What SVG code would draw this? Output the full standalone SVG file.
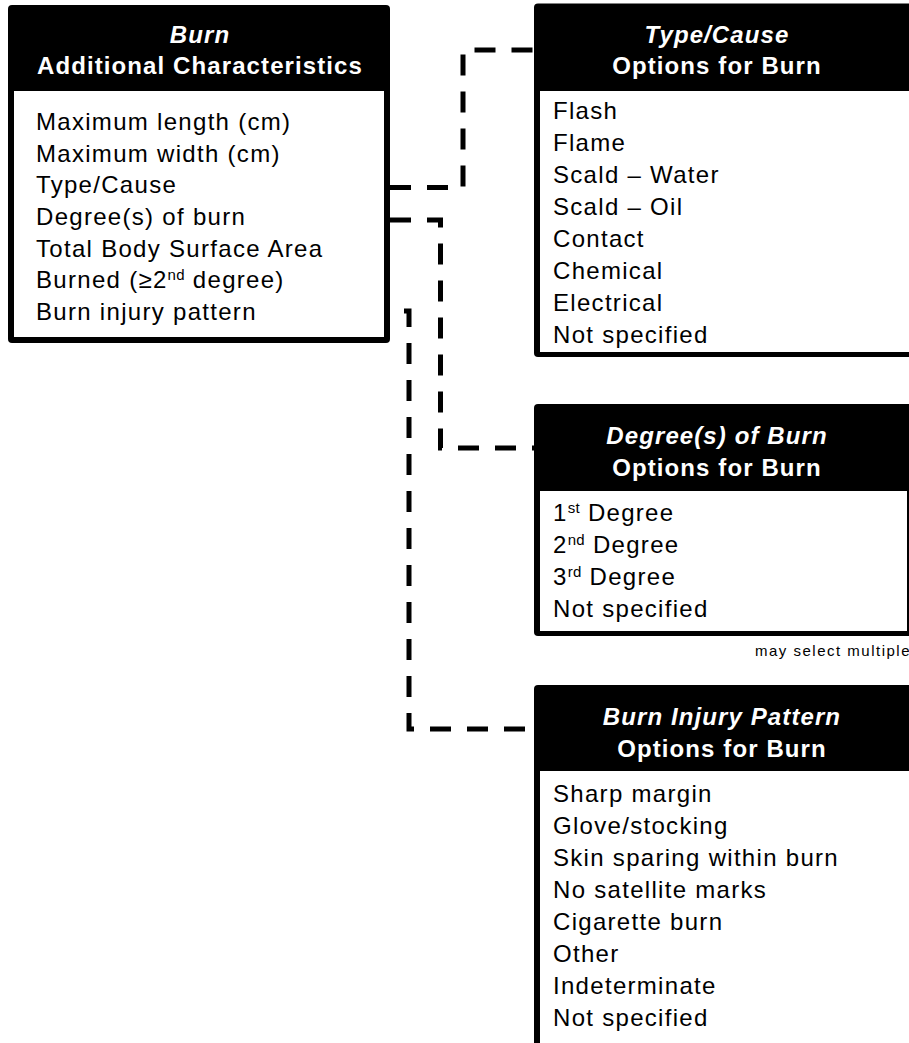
<svg xmlns="http://www.w3.org/2000/svg" width="909" height="1043" viewBox="0 0 909 1043">
<style>
.frame{fill:#000}
.body{fill:#fff}
.hd{font-family:"Liberation Sans",Arial,sans-serif;font-size:24px;font-weight:bold;fill:#fff;letter-spacing:1.1px}
.hdi{font-style:italic}
.it{font-family:"Liberation Sans",Arial,sans-serif;font-size:24px;fill:#000;letter-spacing:1.3px}
.sup{font-size:15px;letter-spacing:0.3px}
.note{font-family:"Liberation Sans",Arial,sans-serif;font-size:15px;fill:#000;letter-spacing:1.5px}
.conn{fill:none;stroke:#000;stroke-width:5;stroke-dasharray:21 16}
</style>
<rect width="909" height="1043" fill="#fff"/>
<g id="connectors">
<path class="conn" d="M390,187.5 H463 V50 H534"/>
<path class="conn" d="M390,220 H440.5 V448 H534"/>
<path class="conn" d="M404,311 H409 V729 H534"/>
</g>
<g id="burn-characteristics">
<rect class="frame" x="8" y="5" width="382" height="338" rx="4"/>
<rect class="body" x="14" y="91" width="370" height="246"/>
<text class="hd hdi" x="200" y="43" text-anchor="middle">Burn</text>
<text class="hd" x="200" y="74" text-anchor="middle">Additional Characteristics</text>
<text class="it" x="36" y="130">Maximum length (cm)</text>
<text class="it" x="36" y="161.7">Maximum width (cm)</text>
<text class="it" x="36" y="193.3">Type/Cause</text>
<text class="it" x="36" y="225">Degree(s) of burn</text>
<text class="it" x="36" y="256.7">Total Body Surface Area</text>
<text class="it" x="36" y="288.3">Burned (≥2<tspan class="sup" dy="-8">nd</tspan><tspan dy="8"> degree)</tspan></text>
<text class="it" x="36" y="320">Burn injury pattern</text>
</g>
<g id="type-cause-options">
<rect class="frame" x="534" y="3.5" width="390" height="353.5" rx="4"/>
<rect class="body" x="540" y="91" width="380" height="261"/>
<text class="hd hdi" x="717" y="43" text-anchor="middle">Type/Cause</text>
<text class="hd" x="717" y="74" text-anchor="middle">Options for Burn</text>
<text class="it" x="553" y="118.5">Flash</text>
<text class="it" x="553" y="150.5">Flame</text>
<text class="it" x="553" y="182.5">Scald – Water</text>
<text class="it" x="553" y="214.5">Scald – Oil</text>
<text class="it" x="553" y="246.5">Contact</text>
<text class="it" x="553" y="278.5">Chemical</text>
<text class="it" x="553" y="310.5">Electrical</text>
<text class="it" x="553" y="342.5">Not specified</text>
</g>
<g id="degree-options">
<rect class="frame" x="534" y="404" width="379" height="232" rx="4"/>
<rect class="body" x="540" y="491" width="367" height="140"/>
<text class="hd hdi" x="717" y="444" text-anchor="middle">Degree(s) of Burn</text>
<text class="hd" x="717" y="476" text-anchor="middle">Options for Burn</text>
<text class="it" x="553" y="521">1<tspan class="sup" dy="-8">st</tspan><tspan dy="8"> Degree</tspan></text>
<text class="it" x="553" y="553">2<tspan class="sup" dy="-8">nd</tspan><tspan dy="8"> Degree</tspan></text>
<text class="it" x="553" y="585">3<tspan class="sup" dy="-8">rd</tspan><tspan dy="8"> Degree</tspan></text>
<text class="it" x="553" y="617">Not specified</text>
<text class="note" x="755" y="656">may select multiple</text>
</g>
<g id="injury-pattern-options">
<rect class="frame" x="534" y="685" width="390" height="380" rx="4"/>
<rect class="body" x="540" y="771" width="380" height="300"/>
<text class="hd hdi" x="722" y="725" text-anchor="middle">Burn Injury Pattern</text>
<text class="hd" x="722" y="757" text-anchor="middle">Options for Burn</text>
<text class="it" x="553" y="802">Sharp margin</text>
<text class="it" x="553" y="834">Glove/stocking</text>
<text class="it" x="553" y="866">Skin sparing within burn</text>
<text class="it" x="553" y="898">No satellite marks</text>
<text class="it" x="553" y="930">Cigarette burn</text>
<text class="it" x="553" y="962">Other</text>
<text class="it" x="553" y="994">Indeterminate</text>
<text class="it" x="553" y="1026">Not specified</text>
</g>
</svg>
